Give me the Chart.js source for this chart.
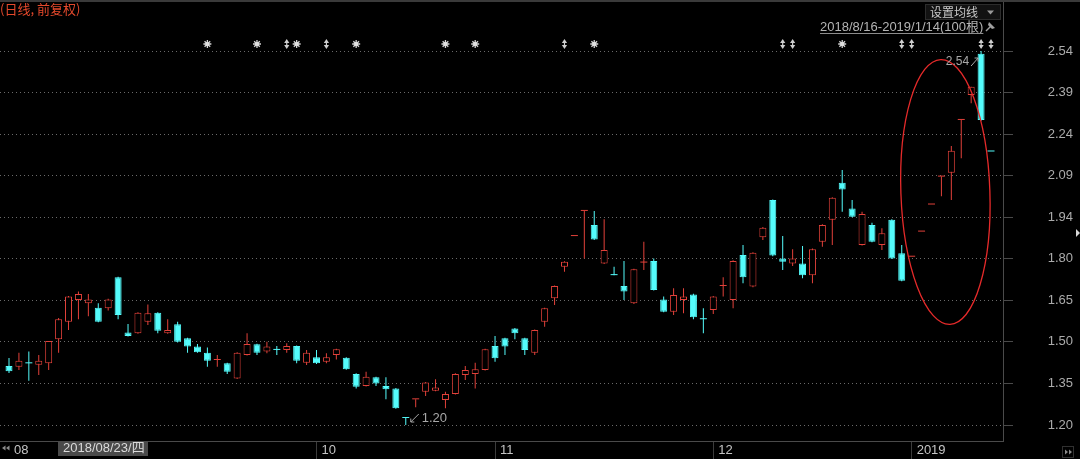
<!DOCTYPE html>
<html>
<head>
<meta charset="utf-8">
<script src="https://cdn.jsdelivr.net/npm/chart.js@4.4.1/dist/chart.umd.min.js"></script>
<style>
html,body{margin:0;padding:0;background:#000;overflow:hidden}
#wrap{width:1080px;height:459px;position:relative;background:#000}
</style>
</head>
<body>
<div id="wrap"><canvas id="c" width="1080" height="459"></canvas></div>
<script>
// ---------- data ----------
const dates = [
'2018-08-16','2018-08-17','2018-08-20','2018-08-21','2018-08-22','2018-08-23','2018-08-24','2018-08-27','2018-08-28','2018-08-29',
'2018-08-30','2018-08-31','2018-09-03','2018-09-04','2018-09-05','2018-09-06','2018-09-07','2018-09-10','2018-09-11','2018-09-12',
'2018-09-13','2018-09-14','2018-09-17','2018-09-18','2018-09-19','2018-09-20','2018-09-21','2018-09-25','2018-09-26','2018-09-27',
'2018-09-28','2018-10-08','2018-10-09','2018-10-10','2018-10-11','2018-10-12','2018-10-15','2018-10-16','2018-10-17','2018-10-18',
'2018-10-19','2018-10-22','2018-10-23','2018-10-24','2018-10-25','2018-10-26','2018-10-29','2018-10-30','2018-10-31','2018-11-01',
'2018-11-02','2018-11-05','2018-11-06','2018-11-07','2018-11-08','2018-11-09','2018-11-12','2018-11-13','2018-11-14','2018-11-15',
'2018-11-16','2018-11-19','2018-11-20','2018-11-21','2018-11-22','2018-11-23','2018-11-26','2018-11-27','2018-11-28','2018-11-29',
'2018-11-30','2018-12-03','2018-12-04','2018-12-05','2018-12-06','2018-12-07','2018-12-10','2018-12-11','2018-12-12','2018-12-13',
'2018-12-14','2018-12-17','2018-12-18','2018-12-19','2018-12-20','2018-12-21','2018-12-24','2018-12-25','2018-12-26','2018-12-27',
'2018-12-28','2019-01-02','2019-01-03','2019-01-04','2019-01-07','2019-01-08','2019-01-09','2019-01-10','2019-01-11','2019-01-14'
];
const openP = [
1.411,1.409,1.421,1.416,1.421,1.507,1.570,1.648,1.636,1.620,
1.618,1.729,1.531,1.529,1.570,1.602,1.529,1.561,1.511,1.481,
1.459,1.433,1.421,1.367,1.451,1.489,1.463,1.469,1.469,1.483,
1.423,1.443,1.427,1.451,1.441,1.383,1.340,1.371,1.340,1.331,
1.225,1.292,1.319,1.323,1.290,1.311,1.379,1.383,1.397,1.483,
1.511,1.546,1.511,1.459,1.570,1.654,1.767,1.877,1.967,1.917,
1.779,1.737,1.698,1.636,1.782,1.788,1.650,1.606,1.648,1.668,
1.579,1.612,1.698,1.648,1.809,1.696,1.873,2.006,1.797,1.779,
1.779,1.737,1.857,1.935,2.068,1.976,1.845,1.917,1.845,1.935,
1.815,1.803,1.893,1.990,2.090,2.104,2.293,2.382,2.530,2.180];
const highP = [
1.440,1.459,1.463,1.451,1.501,1.583,1.662,1.678,1.669,1.636,
1.652,1.731,1.562,1.604,1.632,1.604,1.579,1.570,1.513,1.490,
1.478,1.451,1.423,1.461,1.529,1.491,1.498,1.483,1.493,1.485,
1.469,1.469,1.457,1.473,1.443,1.385,1.391,1.373,1.371,1.333,
1.225,1.292,1.354,1.364,1.319,1.385,1.411,1.423,1.473,1.519,
1.513,1.548,1.513,1.542,1.620,1.700,1.787,1.877,1.967,1.967,
1.937,1.767,1.788,1.760,1.857,1.797,1.660,1.690,1.690,1.670,
1.618,1.662,1.729,1.790,1.845,1.819,1.909,2.008,1.877,1.830,
1.841,1.832,1.919,2.016,2.114,2.006,1.964,1.925,1.905,1.937,
1.845,1.803,1.893,1.990,2.090,2.200,2.293,2.412,2.540,2.180];
const lowP = [
1.386,1.397,1.359,1.379,1.397,1.459,1.540,1.579,1.590,1.568,
1.610,1.579,1.517,1.527,1.558,1.529,1.527,1.496,1.459,1.459,
1.409,1.409,1.383,1.365,1.449,1.451,1.457,1.451,1.459,1.421,
1.415,1.419,1.421,1.435,1.398,1.331,1.338,1.340,1.292,1.258,
1.200,1.264,1.304,1.321,1.260,1.309,1.361,1.331,1.395,1.427,
1.451,1.507,1.451,1.451,1.552,1.630,1.749,1.877,1.797,1.863,
1.777,1.737,1.648,1.634,1.755,1.682,1.604,1.594,1.600,1.579,
1.529,1.598,1.660,1.618,1.708,1.694,1.863,1.805,1.755,1.770,
1.726,1.708,1.839,1.845,1.964,1.944,1.843,1.855,1.827,1.795,
1.715,1.803,1.893,1.990,2.020,2.006,2.156,2.353,2.290,2.180];
const closeP = [
1.393,1.430,1.421,1.430,1.501,1.579,1.660,1.669,1.650,1.570,
1.650,1.594,1.519,1.602,1.600,1.538,1.540,1.498,1.481,1.461,
1.430,1.433,1.391,1.459,1.490,1.459,1.481,1.469,1.483,1.430,
1.459,1.421,1.443,1.471,1.400,1.337,1.373,1.349,1.328,1.260,
1.225,1.292,1.352,1.334,1.311,1.383,1.397,1.400,1.471,1.439,
1.481,1.529,1.469,1.540,1.618,1.698,1.785,1.877,1.967,1.865,
1.827,1.737,1.678,1.758,1.782,1.684,1.606,1.666,1.660,1.586,
1.579,1.660,1.698,1.788,1.729,1.817,1.907,1.807,1.785,1.797,
1.737,1.830,1.917,2.014,2.044,1.946,1.956,1.857,1.887,1.797,
1.717,1.803,1.893,1.990,2.090,2.183,2.293,2.412,2.293,2.180];

const priceTicks = [1.20, 1.3489, 1.4978, 1.6467, 1.7956, 1.9444, 2.0933, 2.2422, 2.3911, 2.54];
const monthTickIdx = [0, 31, 49, 71, 91];
const monthTickLabels = ['08', '10', '11', '12', '2019'];
const starIdx = [20, 25, 29, 35, 44, 47, 59, 84];
const arrowIdx = [28, 32, 56, 78, 79, 90, 91, 98, 99];
const titleText = '(日线, 前复权)';
const settingText = '设置均线';
const rangeText = '2018/8/16-2019/1/14(100根)';
const crossIdx = 5;
const crossText = '2018/08/23/四';
const highMarkIdx = 98;
const lowMarkIdx = 40;

// ---------- styling ----------
const RED = '#e2413a';
const CYAN = '#54fcfc';
const up = dates.map((d, i) => closeP[i] > openP[i] ? true : closeP[i] < openP[i] ? false : (i === 0 || closeP[i] >= closeP[i - 1]));
const flat = dates.map((d, i) => closeP[i] === openP[i]);

const deco = {
  id: 'deco',
  afterDraw(chart) {
    const ctx = chart.ctx, xs = chart.scales.x, ys = chart.scales.y;
    ctx.save();
    // top frame line
    ctx.strokeStyle = '#3a3a3a'; ctx.lineWidth = 2;
    ctx.beginPath(); ctx.moveTo(0, 1); ctx.lineTo(1080, 1); ctx.stroke();
    // title
    ctx.textBaseline = 'middle'; ctx.textAlign = 'left';
    ctx.font = '13px "Noto Sans CJK SC"'; ctx.fillStyle = '#e5492c';
    ctx.fillText(titleText, 0, 9);
    // setting box
    ctx.fillStyle = '#121212'; ctx.fillRect(925, 4, 76, 16);
    ctx.strokeStyle = '#2c2c2c'; ctx.lineWidth = 1; ctx.strokeRect(925.5, 4.5, 75, 15);
    ctx.fillStyle = '#c8c8c8'; ctx.font = '12px "Noto Sans CJK SC"';
    ctx.fillText(settingText, 930, 12.5);
    ctx.fillStyle = '#9a9a9a';
    ctx.beginPath(); ctx.moveTo(987, 10.5); ctx.lineTo(994, 10.5); ctx.lineTo(990.5, 14.5); ctx.closePath(); ctx.fill();
    // range text
    ctx.font = '13px "Liberation Sans", "Noto Sans CJK SC"'; ctx.fillStyle = '#b4b4b4';
    ctx.fillText(rangeText, 820, 27.5);
    const w = ctx.measureText(rangeText).width;
    ctx.strokeStyle = '#8c8c8c'; ctx.beginPath(); ctx.moveTo(820, 33.5); ctx.lineTo(820 + w, 33.5); ctx.stroke();
    // pin icon
    ctx.strokeStyle = '#a0a0a0'; ctx.fillStyle = '#a0a0a0'; ctx.lineWidth = 1.5;
    ctx.beginPath(); ctx.moveTo(986, 31); ctx.lineTo(991, 26); ctx.stroke();
    ctx.beginPath(); ctx.moveTo(989, 22); ctx.lineTo(995, 28); ctx.lineTo(992, 29); ctx.lineTo(988, 25); ctx.closePath(); ctx.fill();
    // event markers
    const my = 44;
    ctx.strokeStyle = '#d4d4d4'; ctx.lineWidth = 1.3;
    starIdx.forEach(i => {
      const x = xs.getPixelForValue(i);
      ctx.beginPath();
      for (let k = 0; k < 4; k++) {
        const a = k * Math.PI / 4;
        ctx.moveTo(x - 4 * Math.cos(a), my - 4 * Math.sin(a));
        ctx.lineTo(x + 4 * Math.cos(a), my + 4 * Math.sin(a));
      }
      ctx.stroke();
      ctx.fillStyle = '#e0e0e0';
      ctx.beginPath(); ctx.arc(x, my, 2, 0, Math.PI * 2); ctx.fill();
    });
    ctx.fillStyle = '#cfcfcf';
    arrowIdx.forEach(i => {
      const x = xs.getPixelForValue(i);
      ctx.beginPath(); ctx.moveTo(x, my - 5); ctx.lineTo(x + 2.6, my - 1); ctx.lineTo(x - 2.6, my - 1); ctx.closePath(); ctx.fill();
      ctx.beginPath(); ctx.moveTo(x, my + 5); ctx.lineTo(x + 2.6, my + 1); ctx.lineTo(x - 2.6, my + 1); ctx.closePath(); ctx.fill();
      ctx.fillRect(x - 0.6, my - 2, 1.2, 4);
    });
    // ellipse annotation
    ctx.strokeStyle = '#e52a2a'; ctx.lineWidth = 1.3;
    ctx.beginPath();
    ctx.ellipse(xs.getPixelForValue(94.4), ys.getPixelForValue(2.035), 44.5, 132.5, -0.035, 0, Math.PI * 2);
    ctx.stroke();
    // high label
    const hx = xs.getPixelForValue(highMarkIdx), hy = ys.getPixelForValue(highP[highMarkIdx]);
    ctx.font = '12px "Liberation Sans"'; ctx.fillStyle = '#a8a8a8'; ctx.textAlign = 'right';
    ctx.fillText(highP[highMarkIdx].toFixed(2), hx - 12, hy + 11);
    ctx.strokeStyle = '#a8a8a8'; ctx.lineWidth = 1;
    ctx.beginPath(); ctx.moveTo(hx - 10, hy + 15); ctx.lineTo(hx - 3, hy + 7); ctx.stroke();
    ctx.beginPath(); ctx.moveTo(hx - 6.5, hy + 7); ctx.lineTo(hx - 3, hy + 7); ctx.lineTo(hx - 3, hy + 10.5); ctx.stroke();
    // low label
    const lx = xs.getPixelForValue(lowMarkIdx), ly = ys.getPixelForValue(lowP[lowMarkIdx]);
    ctx.textAlign = 'left'; ctx.font = '13px "Liberation Sans"';
    ctx.fillText(lowP[lowMarkIdx].toFixed(2), lx + 16, ly - 6.5);
    ctx.beginPath(); ctx.moveTo(lx + 13, ly - 11); ctx.lineTo(lx + 5, ly - 3); ctx.stroke();
    ctx.beginPath(); ctx.moveTo(lx + 5, ly - 6.5); ctx.lineTo(lx + 5, ly - 3); ctx.lineTo(lx + 8.5, ly - 3); ctx.stroke();
    // crosshair date label
    const cx0 = Math.round(xs.getPixelForValue(crossIdx)) - 1;
    ctx.fillStyle = '#4a4a4a'; ctx.fillRect(cx0, 441, 90, 15);
    ctx.fillStyle = '#dadada'; ctx.font = '13px "Liberation Sans", "Noto Sans CJK SC"';
    ctx.fillText(crossText, cx0 + 5, 448.5);
    // bottom-left arrows
    ctx.fillStyle = '#8a8a8a';
    [2, 6].forEach(x0 => { ctx.beginPath(); ctx.moveTo(x0, 448); ctx.lineTo(x0 + 3.5, 445.5); ctx.lineTo(x0 + 3.5, 450.5); ctx.closePath(); ctx.fill(); });
    // bottom-right box
    ctx.strokeStyle = '#303030'; ctx.strokeRect(1062.5, 446.5, 11, 11);
    [1065, 1069].forEach(x0 => { ctx.beginPath(); ctx.moveTo(x0 + 3, 452); ctx.lineTo(x0, 449.5); ctx.lineTo(x0, 454.5); ctx.closePath(); ctx.fill(); });
    // right edge price marker
    ctx.fillStyle = '#d8d8d8';
    ctx.beginPath(); ctx.moveTo(1076, 229); ctx.lineTo(1080, 233); ctx.lineTo(1076, 237); ctx.closePath(); ctx.fill();
    ctx.restore();
  }
};

new Chart(document.getElementById('c'), {
  type: 'bar',
  data: {
    datasets: [
      {
        label: 'body',
        order: 0,
        data: dates.map((d, i) => ({ x: i, y: [openP[i], closeP[i]] })),
        backgroundColor: c => { const i = c.dataIndex; if (flat[i]) return up[i] ? RED : CYAN; return up[i] ? '#000' : CYAN; },
        borderColor: c => up[c.dataIndex] ? RED : CYAN,
        borderWidth: c => flat[c.dataIndex] ? 0 : 1,
        borderSkipped: false,
        inflateAmount: 0,
        barThickness: 7,
        minBarLength: 1,
        grouped: false
      },
      {
        label: 'wick',
        order: 1,
        data: dates.map((d, i) => ({ x: i, y: [lowP[i], highP[i]] })),
        backgroundColor: c => up[c.dataIndex] ? RED : CYAN,
        borderWidth: 0,
        inflateAmount: 0,
        barThickness: 1,
        grouped: false
      }
    ]
  },
  options: {
    responsive: false,
    animation: false,
    devicePixelRatio: 1,
    layout: { padding: { top: 2, right: 7, left: 0, bottom: 0 } },
    plugins: { legend: { display: false }, tooltip: { enabled: false } },
    scales: {
      x: {
        type: 'linear',
        min: -0.9073,
        max: 100.209,
        offset: false,
        afterBuildTicks: s => { s.ticks = monthTickIdx.map(v => ({ value: v })); },
        afterFit: s => { s.height = 18; },
        ticks: {
          autoSkip: false, maxRotation: 0, align: 'start', labelOffset: 5, padding: -16,
          color: '#c4c4c4', font: { size: 13, family: '"Liberation Sans", Arial' },
          callback: v => { const k = monthTickIdx.indexOf(v); return k >= 0 ? monthTickLabels[k] : ''; }
        },
        grid: {
          drawOnChartArea: false, drawTicks: true, tickLength: 18, offset: false,
          tickColor: c => c.index === 0 ? 'rgba(0,0,0,0)' : '#3c3c3c'
        },
        border: { display: true, color: '#4a4a4a', width: 1 }
      },
      y: {
        position: 'right',
        min: 1.1427,
        max: 2.7156,
        afterBuildTicks: s => { s.ticks = priceTicks.map(v => ({ value: v })); },
        afterFit: s => { s.width = 70; },
        ticks: {
          crossAlign: 'far', padding: -6, color: '#ababab',
          font: { size: 13, family: '"Liberation Sans", Arial' },
          callback: v => v.toFixed(2)
        },
        grid: {
          color: 'rgba(125,125,125,0.85)', lineWidth: 1, drawTicks: true, tickLength: 10,
          tickColor: '#4a4a4a', tickBorderDash: []
        },
        border: { display: true, color: '#4a4a4a', width: 1, dash: [1, 3] }
      }
    }
  },
  plugins: [deco]
});
</script>
</body>
</html>
